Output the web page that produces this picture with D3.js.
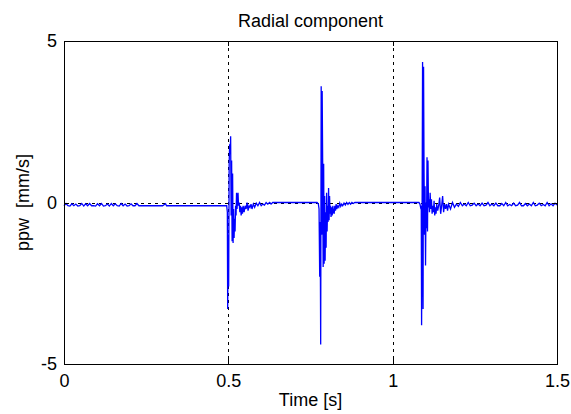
<!DOCTYPE html>
<html>
<head>
<meta charset="utf-8">
<script src="https://cdn.jsdelivr.net/npm/d3@7"></script>
<style>
  html, body { margin: 0; padding: 0; background: #fff; }
  svg { display: block; }
  text { font-family: Arial, "Liberation Sans", Helvetica, sans-serif; fill: #000; }
</style>
</head>
<body>
<svg id="chart" width="571" height="414"></svg>
<script>
// ---- data (time [s], ppw [mm/s]) ----
const title = "Radial component";
const xLabel = "Time [s]";
const yLabel = "ppw  [mm/s]";
const xTicks = [0, 0.5, 1, 1.5];
const yTicks = [-5, 0, 5];
const xDomain = [0, 1.5];
const yDomain = [-5, 5];

const quietStart = [
  [0.000,-0.10],[0.006,-0.03],[0.012,-0.10],[0.018,-0.11],[0.024,-0.04],[0.030,-0.10],
  [0.036,-0.05],[0.042,-0.11],[0.048,-0.10],[0.054,-0.03],[0.060,-0.11],[0.066,-0.04],
  [0.072,-0.10],[0.078,-0.03],[0.084,-0.10],[0.090,-0.10],[0.096,-0.11],[0.102,-0.04],
  [0.108,-0.10],[0.114,-0.03],[0.120,-0.11],[0.126,-0.10],[0.132,-0.05],[0.138,-0.11],
  [0.144,-0.03],[0.150,-0.10],[0.156,-0.04],[0.162,-0.10],[0.168,-0.11],[0.174,-0.03],
  [0.180,-0.10],[0.186,-0.05],[0.192,-0.11],[0.198,-0.10],[0.204,-0.04],[0.210,-0.10],
  [0.216,-0.10],[0.222,-0.03],[0.228,-0.10],[0.234,-0.10],[0.240,-0.10],[0.300,-0.10],
  [0.309,-0.04],[0.312,-0.10],[0.495,-0.10]
];

const event1 = [
  [0.497,-0.30],[0.498,-3.30],[0.4995,-1.00],[0.501,-2.60],[0.5025,1.20],[0.504,1.80],
  [0.5055,1.50],[0.507,2.05],[0.5085,-0.40],[0.510,1.30],[0.5115,-1.20],[0.513,0.90],
  [0.5145,-1.25],[0.516,-0.20],[0.5175,-1.10],[0.519,-0.50],[0.5205,-0.90],[0.522,-0.10],
  [0.5235,-0.40],[0.525,0.30],[0.5265,-0.20],[0.528,0.10],[0.5295,0.30],[0.531,-0.10],
  [0.533,0.00],[0.535,-0.30],[0.537,-0.10],[0.539,-0.40],[0.541,-0.15],[0.543,-0.35],
  [0.545,-0.10],[0.548,-0.30],[0.551,-0.10],[0.554,-0.20],[0.557,0.00],[0.560,-0.25],
  [0.563,-0.10],[0.566,-0.15],[0.569,-0.05],[0.572,-0.20],[0.576,-0.05],[0.580,-0.15],
  [0.585,-0.02],[0.590,-0.10],[0.595,0.00],[0.600,-0.10],[0.605,-0.05],[0.610,-0.08],
  [0.615,0.00],[0.620,-0.05],[0.626,0.00],[0.630,-0.05],[0.635,0.00],[0.770,0.00]
];

const event2 = [
  [0.774,-0.05],[0.776,-0.20],[0.778,-2.30],[0.7795,-0.60],[0.781,-4.40],[0.7825,3.60],
  [0.784,-1.00],[0.7855,3.45],[0.787,1.30],[0.7885,-2.00],[0.790,1.20],[0.7915,-1.90],
  [0.793,0.20],[0.7945,-1.80],[0.796,-0.30],[0.7975,-1.40],[0.799,0.30],[0.8005,-0.90],
  [0.802,-0.10],[0.8035,-0.60],[0.805,0.45],[0.8065,-0.55],[0.808,0.20],[0.8095,-0.35],
  [0.811,-0.10],[0.8125,-0.45],[0.814,-0.15],[0.816,-0.40],[0.818,-0.10],[0.820,-0.30],
  [0.822,-0.35],[0.824,-0.10],[0.826,-0.25],[0.828,-0.05],[0.830,-0.20],[0.833,-0.10],
  [0.836,-0.15],[0.839,-0.02],[0.842,-0.12],[0.845,-0.05],[0.848,-0.10],[0.852,-0.02],
  [0.856,-0.08],[0.860,0.00],[0.864,-0.06],[0.868,0.00],[0.872,-0.05],[0.876,0.00],
  [0.880,-0.03],[0.885,0.00],[1.080,0.00]
];

const event3 = [
  [1.083,-0.05],[1.085,-0.15],[1.087,-0.10],[1.088,-3.80],[1.0895,-0.50],[1.091,4.35],
  [1.0925,-3.30],[1.094,4.20],[1.0955,0.90],[1.097,-1.00],[1.0985,0.50],[1.100,-1.95],
  [1.1015,0.00],[1.103,-0.80],[1.1045,1.40],[1.106,-0.90],[1.1075,1.30],[1.109,-0.15],
  [1.1105,0.10],[1.112,-0.30],[1.114,0.30],[1.116,-0.20],[1.118,0.10],[1.120,-0.35],
  [1.122,-0.10],[1.124,-0.30],[1.126,0.05],[1.128,-0.40],[1.130,-0.15],[1.132,-0.35],
  [1.134,-0.05],[1.137,-0.25],[1.140,-0.10],[1.143,0.15],[1.146,-0.35],[1.149,-0.10],
  [1.152,0.20],[1.155,-0.30],[1.158,-0.05],[1.161,-0.20],[1.164,-0.05],[1.167,-0.25]
];

const tail = [
  [1.170,-0.05],[1.176,-0.20],[1.182,0.00],[1.188,-0.15],[1.194,-0.05],[1.200,-0.12],
  [1.206,0.00],[1.212,-0.10],[1.218,-0.05],[1.224,-0.10],[1.230,0.00],[1.236,-0.10],
  [1.242,-0.08],[1.248,-0.02],[1.254,-0.10],[1.260,-0.05],[1.266,-0.10],[1.272,-0.02],
  [1.278,-0.10],[1.284,-0.08],[1.290,0.00],[1.296,-0.10],[1.302,-0.05],[1.308,-0.10],
  [1.314,-0.02],[1.320,-0.10],[1.326,-0.10],[1.332,-0.03],[1.338,-0.10],[1.344,0.00],
  [1.350,-0.10],[1.356,-0.06],[1.362,-0.10],[1.368,-0.02],[1.374,-0.10],[1.380,-0.08],
  [1.386,0.00],[1.392,-0.10],[1.398,-0.10],[1.404,-0.03],[1.410,-0.10],[1.416,-0.05],
  [1.422,-0.10],[1.428,0.00],[1.434,-0.10],[1.440,-0.08],[1.446,-0.02],[1.452,-0.10],
  [1.458,-0.06],[1.464,-0.10],[1.470,0.00],[1.476,-0.10],[1.482,-0.04],[1.488,-0.10],
  [1.494,-0.02],[1.500,-0.08]
];

const signal = [].concat(quietStart, event1, event2, event3, tail);

// ---- layout ----
const svg = d3.select("#chart");
const m = { left: 64, right: 557, top: 41, bottom: 364 };

const x = d3.scaleLinear().domain(xDomain).range([m.left, m.right]);
const y = d3.scaleLinear().domain(yDomain).range([m.bottom, m.top]);

svg.append("rect").attr("width", 571).attr("height", 414).attr("fill", "#fff");

// grid (dotted, MATLAB style)
const grid = svg.append("g").attr("stroke", "#000").attr("stroke-width", 1)
  .attr("stroke-dasharray", "3,4").attr("shape-rendering", "crispEdges");
grid.selectAll("line.gx").data(xTicks).join("line")
  .attr("x1", d => Math.round(x(d)) + 0.5).attr("x2", d => Math.round(x(d)) + 0.5)
  .attr("y1", m.top).attr("y2", m.bottom);
grid.selectAll("line.gy").data(yTicks).join("line")
  .attr("x1", m.left).attr("x2", m.right)
  .attr("y1", d => Math.round(y(d)) + 0.5).attr("y2", d => Math.round(y(d)) + 0.5);

// signal
const line = d3.line().x(d => x(d[0])).y(d => y(d[1]));
svg.append("path").datum(signal)
  .attr("fill", "none").attr("stroke", "#0000ff").attr("stroke-width", 1.3)
  .attr("stroke-linejoin", "miter")
  .attr("d", line);

// axes
const fs = "18px";
const fmt = d => String(d);
const xAxis = svg.append("g").attr("transform", `translate(0,${m.bottom})`)
  .call(d3.axisBottom(x).tickValues(xTicks).tickFormat(fmt).tickSize(-5).tickPadding(10));
const xAxisTop = svg.append("g").attr("transform", `translate(0,${m.top})`)
  .call(d3.axisTop(x).tickValues(xTicks).tickFormat("").tickSize(-5));
const yAxis = svg.append("g").attr("transform", `translate(${m.left},0)`)
  .call(d3.axisLeft(y).tickValues(yTicks).tickFormat(fmt).tickSize(-5).tickPadding(7));
const yAxisRight = svg.append("g").attr("transform", `translate(${m.right},0)`)
  .call(d3.axisRight(y).tickValues(yTicks).tickFormat("").tickSize(-5));

[xAxis, xAxisTop, yAxis, yAxisRight].forEach(g => {
  g.select(".domain").remove();
  g.selectAll("line").attr("stroke", "#000").attr("shape-rendering", "crispEdges");
  g.selectAll("text").style("font-size", fs)
    .style("font-family", "Arial, 'Liberation Sans', sans-serif").attr("fill", "#000");
});

// box
svg.append("rect")
  .attr("x", m.left + 0.5).attr("y", m.top + 0.5)
  .attr("width", m.right - m.left).attr("height", m.bottom - m.top)
  .attr("fill", "none").attr("stroke", "#000").attr("stroke-width", 1);

// title & labels
svg.append("text").attr("x", (m.left + m.right) / 2).attr("y", 27)
  .attr("text-anchor", "middle").style("font-size", "18px").text(title);
svg.append("text").attr("x", (m.left + m.right) / 2).attr("y", 406)
  .attr("text-anchor", "middle").style("font-size", "18px").text(xLabel);
svg.append("text")
  .attr("transform", `translate(29,${(m.top + m.bottom) / 2}) rotate(-90)`)
  .attr("text-anchor", "middle").style("font-size", "18px")
  .attr("xml:space", "preserve").style("white-space", "pre").text(yLabel);
</script>
</body>
</html>
